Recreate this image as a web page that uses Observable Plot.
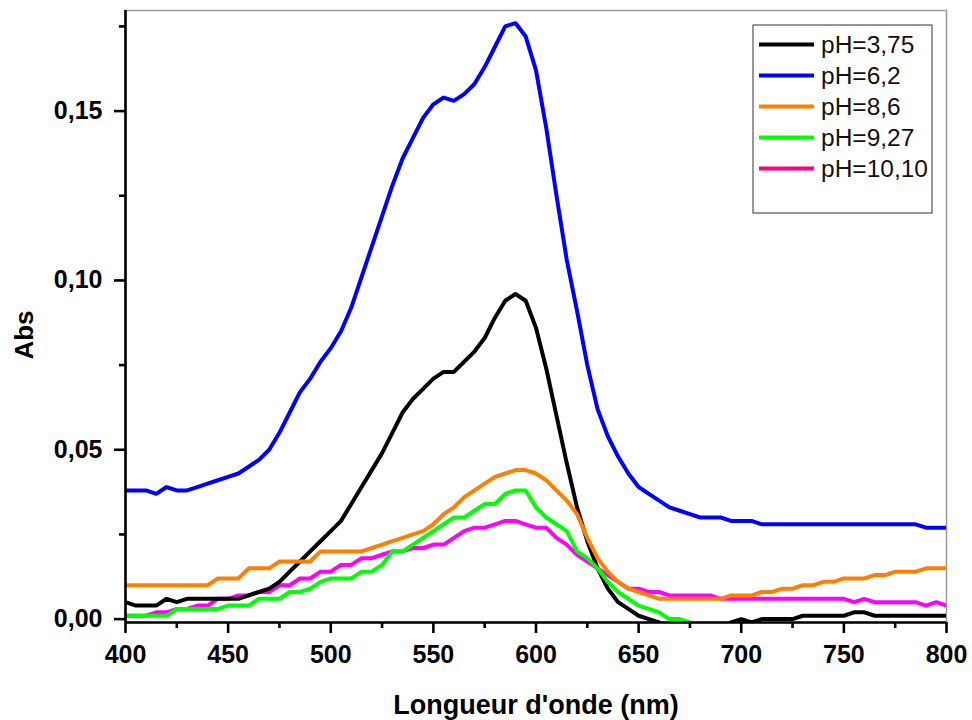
<!DOCTYPE html>
<html>
<head>
<meta charset="utf-8">
<script src="https://cdn.jsdelivr.net/npm/d3@7"></script>
<script src="https://cdn.jsdelivr.net/npm/@observablehq/plot@0.6"></script>
<style>
  body { margin: 0; background: #fff; }
  svg { display: block; }
</style>
</head>
<body>
<div id="chart"></div>
<script>
// ---- data ----
const wavelengths = d3.range(400, 801, 5);
const seriesNames = ["pH=3,75", "pH=6,2", "pH=8,6", "pH=9,27", "pH=10,10"];
const lineColors = ["#000000", "#0000ff", "#ff8000", "#00ff00", "#ff00ff"];
const legendColors = ["#000000", "#0000ff", "#ff8000", "#00ff00", "#ff0080"];

const absPH375 = [
  0.005, 0.004, 0.004, 0.004, 0.006, 0.005, 0.006, 0.006, 0.006, 0.006,
  0.006, 0.006, 0.007, 0.008, 0.009, 0.011, 0.014, 0.017, 0.020, 0.023,
  0.026, 0.029, 0.034, 0.039, 0.044, 0.049, 0.055, 0.061, 0.065, 0.068,
  0.071, 0.073, 0.073, 0.076, 0.079, 0.083, 0.089, 0.094, 0.096, 0.094,
  0.086, 0.074, 0.060, 0.046, 0.033, 0.023, 0.015, 0.009, 0.005, 0.003,
  0.001, 0.000, -0.001, -0.002, -0.002, -0.002, -0.002, -0.002, -0.002, -0.001,
  0.000, -0.001, 0.000, 0.000, 0.000, 0.000, 0.001, 0.001, 0.001, 0.001,
  0.001, 0.002, 0.002, 0.001, 0.001, 0.001, 0.001, 0.001, 0.001, 0.001,
  0.001
];
const absPH62 = [
  0.038, 0.038, 0.038, 0.037, 0.039, 0.038, 0.038, 0.039, 0.040, 0.041,
  0.042, 0.043, 0.045, 0.047, 0.050, 0.055, 0.061, 0.067, 0.071, 0.076,
  0.080, 0.085, 0.092, 0.101, 0.110, 0.119, 0.128, 0.136, 0.142, 0.148,
  0.152, 0.154, 0.153, 0.155, 0.158, 0.163, 0.169, 0.175, 0.176, 0.172,
  0.162, 0.145, 0.125, 0.106, 0.091, 0.075, 0.062, 0.054, 0.048, 0.043,
  0.039, 0.037, 0.035, 0.033, 0.032, 0.031, 0.030, 0.030, 0.030, 0.029,
  0.029, 0.029, 0.028, 0.028, 0.028, 0.028, 0.028, 0.028, 0.028, 0.028,
  0.028, 0.028, 0.028, 0.028, 0.028, 0.028, 0.028, 0.028, 0.027, 0.027,
  0.027
];
const absPH86 = [
  0.010, 0.010, 0.010, 0.010, 0.010, 0.010, 0.010, 0.010, 0.010, 0.012,
  0.012, 0.012, 0.015, 0.015, 0.015, 0.017, 0.017, 0.017, 0.017, 0.020,
  0.020, 0.020, 0.020, 0.020, 0.021, 0.022, 0.023, 0.024, 0.025, 0.026,
  0.028, 0.031, 0.033, 0.036, 0.038, 0.040, 0.042, 0.043, 0.044, 0.044,
  0.043, 0.041, 0.038, 0.035, 0.031, 0.024, 0.018, 0.014, 0.011, 0.009,
  0.008, 0.007, 0.006, 0.006, 0.006, 0.006, 0.006, 0.006, 0.006, 0.007,
  0.007, 0.007, 0.008, 0.008, 0.009, 0.009, 0.010, 0.010, 0.011, 0.011,
  0.012, 0.012, 0.012, 0.013, 0.013, 0.014, 0.014, 0.014, 0.015, 0.015,
  0.015
];
const absPH927 = [
  0.001, 0.001, 0.001, 0.001, 0.001, 0.003, 0.003, 0.003, 0.003, 0.003,
  0.004, 0.004, 0.004, 0.006, 0.006, 0.006, 0.008, 0.008, 0.009, 0.011,
  0.012, 0.012, 0.012, 0.014, 0.014, 0.016, 0.020, 0.020, 0.022, 0.024,
  0.026, 0.028, 0.030, 0.030, 0.032, 0.034, 0.034, 0.037, 0.038, 0.038,
  0.033, 0.030, 0.028, 0.026, 0.020, 0.018, 0.015, 0.011, 0.008, 0.006,
  0.004, 0.003, 0.002, 0.000, 0.000, -0.001, -0.002
];
const absPH1010 = [
  0.001, 0.001, 0.001, 0.002, 0.002, 0.003, 0.003, 0.004, 0.004, 0.006,
  0.006, 0.007, 0.007, 0.008, 0.008, 0.010, 0.010, 0.012, 0.012, 0.014,
  0.014, 0.016, 0.016, 0.018, 0.018, 0.019, 0.020, 0.020, 0.021, 0.021,
  0.022, 0.022, 0.024, 0.026, 0.027, 0.027, 0.028, 0.029, 0.029, 0.028,
  0.027, 0.027, 0.024, 0.022, 0.019, 0.017, 0.015, 0.013, 0.011, 0.009,
  0.009, 0.008, 0.008, 0.007, 0.007, 0.007, 0.007, 0.007, 0.006, 0.006,
  0.006, 0.006, 0.006, 0.006, 0.006, 0.006, 0.006, 0.006, 0.006, 0.006,
  0.006, 0.005, 0.006, 0.005, 0.005, 0.005, 0.005, 0.005, 0.004, 0.005,
  0.004
];

const xTicks = [400, 450, 500, 550, 600, 650, 700, 750, 800];
const xMinorTicks = [425, 475, 525, 575, 625, 675, 725, 775];
const yTicks = [0, 0.05, 0.10, 0.15];
const yMinorTicks = [0.025, 0.075, 0.125, 0.175];
const xTitle = "Longueur d'onde (nm)";
const yTitle = "Abs";

// ---- chart ----
const seriesValues = [absPH375, absPH62, absPH86, absPH927, absPH1010];
const drawOrder = [4, 0, 1, 2, 3];
const yDomain = [-0.001, 0.1797];
const fontFamily = '"Liberation Sans", Arial, Helvetica, sans-serif';
const fmt = d => d.toFixed(2).replace(".", ",");

const lineMarks = drawOrder.map(i =>
  Plot.line(seriesValues[i].map((v, j) => ({nm: wavelengths[j], abs: v})), {
    x: "nm", y: "abs", stroke: lineColors[i], strokeWidth: 4,
    strokeLinejoin: "miter", clip: true
  })
);

const plot = Plot.plot({
  width: 972,
  height: 720,
  marginLeft: 125,
  marginRight: 26,
  marginTop: 10,
  marginBottom: 98,
  style: {fontFamily, background: "#fff", color: "#000", overflow: "visible"},
  x: {domain: [400, 800], label: null},
  y: {domain: yDomain, label: null},
  marks: [
    Plot.frame({stroke: "#9a9a9a", strokeWidth: 1.5}),
    ...lineMarks,
    Plot.ruleX([400], {stroke: "#000", strokeWidth: 2.6}),
    Plot.ruleY([yDomain[0]], {stroke: "#000", strokeWidth: 2.6}),
    Plot.axisX(xTicks, {tickSize: 11, tickPadding: 12, tickFormat: d => String(d), fontSize: 25, strokeWidth: 2.6, label: null}),
    Plot.axisX(xMinorTicks, {tickSize: 6, tickFormat: () => "", strokeWidth: 2.6, label: null}),
    Plot.axisY(yTicks, {tickSize: 11, tickPadding: 12, tickFormat: fmt, fontSize: 25, strokeWidth: 2.6, label: null}),
    Plot.axisY(yMinorTicks, {tickSize: 6, tickFormat: () => "", strokeWidth: 2.6, label: null})
  ]
});

const svg = d3.select(plot);
svg.selectAll('[aria-label$="tick label"]').attr("font-weight", "bold");

// axis titles
svg.append("text")
  .attr("x", 536).attr("y", 714)
  .attr("text-anchor", "middle")
  .attr("font-size", 27).attr("font-weight", "bold")
  .attr("font-family", fontFamily)
  .text(xTitle);
svg.append("text")
  .attr("transform", "translate(33,335) rotate(-90)")
  .attr("text-anchor", "middle")
  .attr("font-size", 26).attr("font-weight", "bold")
  .attr("font-family", fontFamily)
  .text(yTitle);

// legend
const lg = svg.append("g").attr("text-anchor", "start");
lg.append("rect")
  .attr("x", 753).attr("y", 25).attr("width", 179).attr("height", 188)
  .attr("fill", "#fff").attr("stroke", "#333").attr("stroke-width", 1);
seriesNames.forEach((name, i) => {
  const cy = 44.5 + i * 31;
  lg.append("line")
    .attr("x1", 759).attr("x2", 814).attr("y1", cy).attr("y2", cy)
    .attr("stroke", legendColors[i]).attr("stroke-width", 4);
  lg.append("text")
    .attr("x", 821).attr("y", cy).attr("dy", "0.36em")
    .attr("text-anchor", "start")
    .attr("font-size", 24.5).attr("font-family", fontFamily)
    .attr("fill", "#111")
    .text(name);
});

document.getElementById("chart").appendChild(plot);
</script>
</body>
</html>
